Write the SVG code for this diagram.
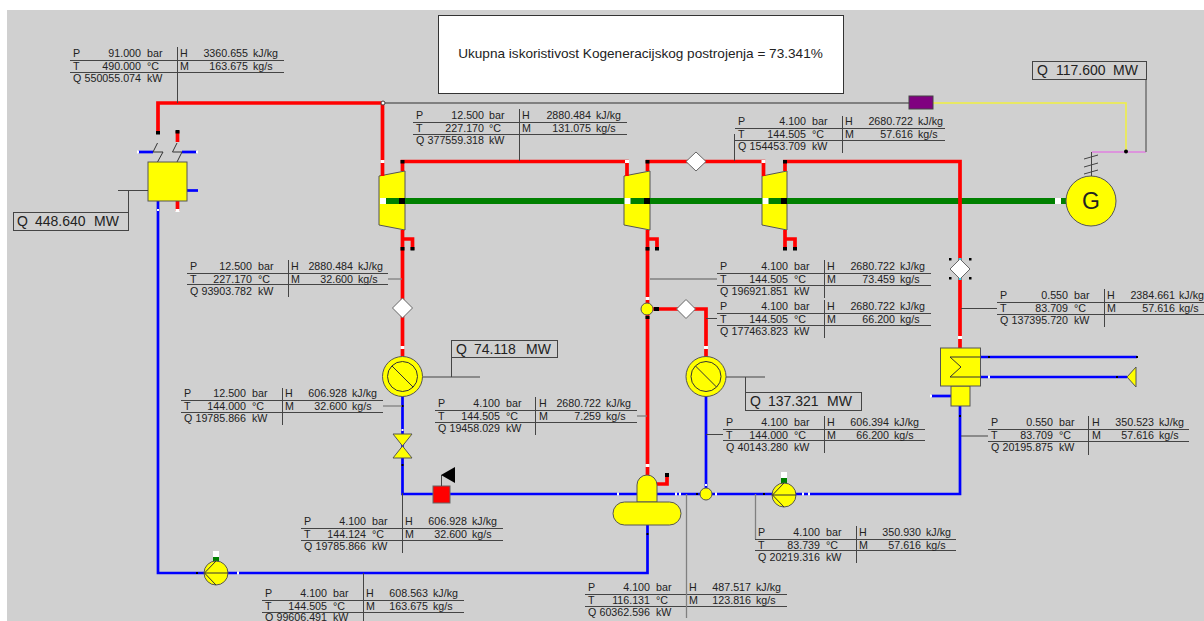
<svg xmlns="http://www.w3.org/2000/svg" width="1204" height="621" viewBox="0 0 1204 621">
<style>
text{font-family:"Liberation Sans",Arial,sans-serif;fill:#222}
.t text{font-size:10.700px}
.e{text-anchor:end}
.q{font-size:14px}
.ln{stroke:#444;stroke-width:1;fill:none}
.gl{stroke:#808080;stroke-width:1.800;fill:none}
.gm{stroke:#808080;stroke-width:1.300;fill:none}
.r{stroke:#f00;stroke-width:3.700;fill:none}
.b{stroke:#00f;stroke-width:2.700;fill:none}
.s{stroke:#008000;stroke-width:6;fill:none}
.n{fill:#ff0;stroke:#555;stroke-width:1}
.d{fill:#fff;stroke:#666;stroke-width:1}
.w{fill:#fff}
.k{fill:#000}
.bx{fill:#d0d0d0;stroke:#444;stroke-width:1}
.sym{stroke:#333;stroke-width:1;fill:none}
</style>
<rect x="7" y="10" width="1197" height="611" fill="#d0d0d0"/>
<g id="title"><rect x="438.500" y="15.500" width="405" height="78" fill="#fff" stroke="#333"/><text x="640.500" y="58" text-anchor="middle" font-size="13.600">Ukupna iskoristivost Kogeneracijskog postrojenja = 73.341%</text></g>
<g id="turbine-1"><polygon class="n" points="379,176 405,171 405,230 379,225"/></g>
<g id="turbine-2"><polygon class="n" points="624,176 650,171 650,230 624,225"/></g>
<g id="turbine-3"><polygon class="n" points="762,176 787,171 787,230 762,225"/></g>
<g id="connectors">
<path class="s" d="M380 201H1066"/>
<path class="gl" d="M383 103H909"/>
<path d="M933 103H1126V152" fill="none" stroke="#f0f040" stroke-width="1.500"/>
<path d="M1092 152H1146" fill="none" stroke="#e080e0" stroke-width="1.500"/>
<path class="gl" d="M1146 152V79"/>
<path class="r" d="M158 133V103H382.500V176"/>
<path class="r" d="M177.500 131V142"/>
<path class="r" d="M177.500 201V211"/>
<path class="r" d="M402.500 171V161.500H627V176"/>
<path class="r" d="M647.500 171V161.500H763.500V176"/>
<path class="r" d="M785 171V161.500H960V348"/>
<path class="r" d="M402.500 230V356"/>
<path class="r" d="M402.500 239H412.500V250"/>
<path class="r" d="M647.500 230V475"/>
<path class="r" d="M647.500 239H657V250"/>
<path class="r" d="M785 230V250"/>
<path class="r" d="M785 239H795V250"/>
<path class="r" d="M653 309H706V357"/>
<path class="r" d="M657 484H667V473"/>
<path class="b" d="M158 201V573H647.500V525"/>
<path class="b" d="M138 152H153"/>
<path class="b" d="M182 152H197"/>
<path class="b" d="M187 190.500H198"/>
<path class="b" d="M402.500 396V494H637"/>
<path class="b" d="M657 494H960V406"/>
<path class="b" d="M706 396V488"/>
<path class="b" d="M980 357H1137"/>
<path class="b" d="M980 377H1127"/>
<path class="b" d="M931 396H951"/>
<g class="sym"><path d="M157.500 143L153 152H163L157.500 162"/><path d="M177 143L172.500 152H182L177 162"/></g>
<g class="k">
<rect x="156" y="131" width="4" height="3.500"/><rect x="175.500" y="130" width="4" height="3.500"/>
<rect x="400.500" y="160" width="4" height="3.500"/><rect x="645.500" y="160" width="4" height="3.500"/><rect x="783" y="160" width="4" height="3.500"/>
<rect x="400.500" y="247" width="4" height="3.500"/><rect x="410.500" y="247" width="4" height="3.500"/>
<rect x="645.500" y="247" width="4" height="3.500"/><rect x="655" y="247" width="4" height="3.500"/>
<rect x="783" y="247" width="4" height="3.500"/><rect x="793" y="247" width="4" height="3.500"/>
<rect x="399" y="198" width="6" height="6"/><rect x="644" y="198" width="6" height="6"/><rect x="781" y="198" width="6" height="6"/>
<rect x="654" y="307" width="5" height="4"/><rect x="645.500" y="316" width="4" height="3"/>
<rect x="665" y="473" width="4" height="4"/>
<rect x="401.500" y="405" width="2" height="2"/><rect x="401.500" y="464" width="2" height="2"/><rect x="646.500" y="533" width="2" height="2"/>
<rect x="196" y="572" width="2" height="2"/><rect x="696" y="493" width="2" height="2"/><rect x="763" y="493" width="2" height="2"/><rect x="959" y="415" width="2" height="2"/>
<rect x="988" y="356" width="2" height="2"/><rect x="1136" y="356" width="2" height="2"/><rect x="1116" y="376" width="2" height="2"/>
</g>
<g class="w">
<rect x="380" y="198" width="6" height="6"/><rect x="624.500" y="198" width="6" height="6"/><rect x="762.500" y="198" width="6" height="6"/><rect x="1055" y="198" width="6" height="6"/>
<rect x="380.500" y="160" width="4" height="3"/><rect x="625" y="160" width="4" height="3"/><rect x="761.500" y="160" width="4" height="3"/>
<rect x="400.500" y="346" width="4" height="3"/><rect x="704" y="346" width="4" height="3"/><rect x="958" y="336" width="4" height="3"/><rect x="645.500" y="464" width="4" height="3"/><rect x="645.500" y="297" width="4" height="3"/>
<rect x="175.500" y="209" width="4" height="3"/>
<rect x="137" y="150.500" width="2" height="3"/><rect x="196" y="150.500" width="2" height="3"/>
<rect x="157" y="209" width="2" height="2"/><rect x="401.500" y="429" width="2" height="2"/><rect x="705" y="484" width="2" height="2"/>
<rect x="237" y="571.500" width="2" height="3"/><rect x="617" y="492.500" width="2" height="3"/><rect x="675" y="492.500" width="2" height="3"/><rect x="679" y="492.500" width="2" height="3"/><rect x="715" y="492.500" width="2" height="3"/><rect x="802" y="492.500" width="2" height="3"/><rect x="808" y="492.500" width="2" height="3"/>
<rect x="988" y="375.500" width="2" height="3"/><rect x="930" y="394.500" width="2" height="3"/>
</g>
</g>
<g id="junction-top"><circle cx="383" cy="103" r="2" fill="#fff" stroke="#444"/></g>
<g id="flow-meter"><rect x="909" y="96" width="24" height="13" fill="#800080" stroke="#444"/></g>
<g id="boiler"><rect class="n" x="148" y="162" width="39" height="39"/><path class="ln" d="M118 190.500H148M128.500 190.500V212"/></g>
<g id="q-boiler"><rect class="bx" x="13.500" y="212.500" width="115" height="18"/><text class="q" x="17" y="226">Q</text><text class="q" x="35" y="226">448.640</text><text class="q" x="94" y="226">MW</text></g>
<g id="generator"><circle class="n" cx="1091" cy="201" r="25"/><text x="1091" y="209" text-anchor="middle" font-size="23">G</text><path class="ln" d="M1091.500 152V176M1084 159L1098 155M1084 167L1098 163M1084 174L1098 170"/></g>
<g id="q-generator"><rect class="bx" x="1032.500" y="61.500" width="114" height="18"/><text class="q" x="1037" y="75">Q</text><text class="q" x="1056" y="75">117.600</text><text class="q" x="1113" y="75">MW</text></g>
<g id="meter-generator"><circle cx="1126" cy="151.500" r="2" fill="#000"/></g>
<g id="valve-diamond-1"><polygon class="d" points="696,152 706,161.500 696,171 686,161.500"/></g>
<g id="valve-diamond-2"><polygon class="d" points="402.500,298 412.500,308 402.500,318 392.500,308"/></g>
<g id="valve-diamond-3"><polygon class="d" points="686,299.500 695.500,309 686,318.500 676.500,309"/></g>
<g id="valve-diamond-4"><polygon class="d" points="960,259 970,269 960,279 950,269"/><g class="k"><rect x="949" y="258" width="2.500" height="2.500"/><rect x="969" y="258" width="2.500" height="2.500"/><rect x="949" y="277" width="2.500" height="2.500"/><rect x="969" y="277" width="2.500" height="2.500"/></g><rect x="958.500" y="258" width="3" height="2" fill="#30d0e0"/><rect x="958.500" y="278" width="3" height="2" fill="#30d0e0"/></g>
<g id="heater-1"><circle class="n" cx="402.500" cy="376.500" r="20"/><circle class="sym" cx="402.500" cy="376.500" r="15"/><path class="sym" d="M392 366L413 387"/><path class="ln" d="M423 377H480M451.500 377V358"/></g>
<g id="q-heater-1"><rect class="bx" x="451.500" y="340.500" width="106" height="17"/><text class="q" x="456" y="354">Q</text><text class="q" x="474" y="354">74.118</text><text class="q" x="526" y="354">MW</text></g>
<g id="heater-2"><circle class="n" cx="706" cy="376.500" r="20"/><circle class="sym" cx="706" cy="376.500" r="15"/><path class="sym" d="M695.500 366L716.500 387"/><path class="ln" d="M726 377H765M745.500 377V393"/></g>
<g id="q-heater-2"><rect class="bx" x="745.500" y="392.500" width="116" height="18"/><text class="q" x="750" y="406">Q</text><text class="q" x="768" y="406">137.321</text><text class="q" x="827" y="406">MW</text></g>
<g id="junction-1"><circle class="n" cx="647" cy="309" r="6"/></g>
<g id="junction-2"><circle class="n" cx="706" cy="494" r="6"/></g>
<g id="throttle"><polygon class="n" points="393,434 412,434 402.500,446"/><polygon class="n" points="393,458 412,458 402.500,446"/></g>
<g id="control-valve"><rect x="433" y="486" width="17" height="17" fill="#f00" stroke="#666"/><path class="ln" d="M441.500 486V475"/><polygon class="k" points="441,475 455,467 455,483"/></g>
<g id="deaerator"><path class="n" d="M637 502V485A10 10 0 0 1 657 485V502Z"/><rect class="n" x="613" y="502" width="68" height="23" rx="11.500"/></g>
<g id="pump-1"><rect x="213" y="557" width="6" height="5" fill="#008000"/><rect class="w" x="213" y="551" width="6" height="6"/><circle class="n" cx="216" cy="573" r="12"/><path class="sym" d="M216 561L204.500 573L216 585M204.500 573H228"/></g>
<g id="pump-2"><rect x="781" y="478" width="6" height="5" fill="#008000"/><rect class="w" x="781" y="472" width="6" height="6"/><circle class="n" cx="784" cy="495" r="12"/><path class="sym" d="M784 483L772.500 495L784 507M772.500 495H796"/></g>
<g id="condenser"><rect class="n" x="951" y="386" width="19" height="20"/><rect class="n" x="940.500" y="348" width="40" height="38"/><path class="sym" d="M980 357H950L961 367L950 377H980"/></g>
<g id="sink"><polygon class="n" points="1127,377 1136,367 1136,387"/></g>

<g id="leaders">
<path class="ln" d="M734.500 161V134"/>
<path class="gm" d="M388 279H402"/>
<path class="gm" d="M383 406H402"/>
<path class="gm" d="M637 416H647"/>
<path class="gm" d="M650 279H717"/>
<path class="ln" d="M706 318.500H717"/>
<path class="ln" d="M706 434.500H723"/>
<path class="ln" d="M961 308.500H997"/>
<path class="ln" d="M961 436H988"/>
<path class="gm" d="M755.500 494V539"/>
</g>

<g id="table-steam-in" class="t" transform="translate(70,60)">
<path class="ln" d="M0 .5H214M0 12.500H214M107.500 -13V43"/>
<text x="3" y="-3">P</text><text class="e" x="71" y="-3">91.000</text><text x="77" y="-3">bar</text><text x="110" y="-3">H</text><text class="e" x="178" y="-3">3360.655</text><text x="183" y="-3">kJ/kg</text>
<text x="3" y="10">T</text><text class="e" x="71" y="10">490.000</text><text x="77" y="10">°C</text><text x="110" y="10">M</text><text class="e" x="178" y="10">163.675</text><text x="183" y="10">kg/s</text>
<text x="3" y="22">Q</text><text class="e" x="71" y="22">550055.074</text><text x="77" y="22">kW</text>
</g>
<g id="table-hp-out" class="t" transform="translate(413,122)">
<path class="ln" d="M0 .5H214M0 12.500H214M106.500 -13V39"/>
<text x="3" y="-3">P</text><text class="e" x="71" y="-3">12.500</text><text x="76" y="-3">bar</text><text x="109" y="-3">H</text><text class="e" x="178" y="-3">2880.484</text><text x="183" y="-3">kJ/kg</text>
<text x="3" y="10">T</text><text class="e" x="71" y="10">227.170</text><text x="76" y="10">°C</text><text x="109" y="10">M</text><text class="e" x="178" y="10">131.075</text><text x="183" y="10">kg/s</text>
<text x="3" y="22">Q</text><text class="e" x="71" y="22">377559.318</text><text x="76" y="22">kW</text>
</g>
<g id="table-ip-out" class="t" transform="translate(735,128)">
<path class="ln" d="M0 .5H210M0 12.500H210M107.500 -12V25"/>
<text x="3" y="-3">P</text><text class="e" x="71" y="-3">4.100</text><text x="77" y="-3">bar</text><text x="110" y="-3">H</text><text class="e" x="178" y="-3">2680.722</text><text x="183" y="-3">kJ/kg</text>
<text x="3" y="10">T</text><text class="e" x="71" y="10">144.505</text><text x="77" y="10">°C</text><text x="110" y="10">M</text><text class="e" x="178" y="10">57.616</text><text x="183" y="10">kg/s</text>
<text x="3" y="22">Q</text><text class="e" x="71" y="22">154453.709</text><text x="77" y="22">kW</text>
</g>
<g id="table-extraction-hp" class="t" transform="translate(187,273)">
<path class="ln" d="M0 .5H201M0 11.500H201M101.500 -13V24"/>
<text x="3" y="-3">P</text><text class="e" x="65" y="-3">12.500</text><text x="71" y="-3">bar</text><text x="104" y="-3">H</text><text class="e" x="166" y="-3">2880.484</text><text x="171" y="-3">kJ/kg</text>
<text x="3" y="10">T</text><text class="e" x="65" y="10">227.170</text><text x="71" y="10">°C</text><text x="104" y="10">M</text><text class="e" x="166" y="10">32.600</text><text x="171" y="10">kg/s</text>
<text x="3" y="22">Q</text><text class="e" x="65" y="22">93903.782</text><text x="71" y="22">kW</text>
</g>
<g id="table-condensate-1" class="t" transform="translate(181,400)">
<path class="ln" d="M0 .5H202M0 12.500H202M101.500 -12V25"/>
<text x="3" y="-3">P</text><text class="e" x="65" y="-3">12.500</text><text x="71" y="-3">bar</text><text x="104" y="-3">H</text><text class="e" x="166" y="-3">606.928</text><text x="171" y="-3">kJ/kg</text>
<text x="3" y="10">T</text><text class="e" x="65" y="10">144.000</text><text x="71" y="10">°C</text><text x="104" y="10">M</text><text class="e" x="166" y="10">32.600</text><text x="171" y="10">kg/s</text>
<text x="3" y="22">Q</text><text class="e" x="65" y="22">19785.866</text><text x="71" y="22">kW</text>
</g>
<g id="table-deaerator-steam" class="t" transform="translate(435,410)">
<path class="ln" d="M0 .5H202M0 12.500H202M100.500 -13V25"/>
<text x="3" y="-3">P</text><text class="e" x="65" y="-3">4.100</text><text x="71" y="-3">bar</text><text x="104" y="-3">H</text><text class="e" x="166" y="-3">2680.722</text><text x="171" y="-3">kJ/kg</text>
<text x="3" y="10">T</text><text class="e" x="65" y="10">144.505</text><text x="71" y="10">°C</text><text x="104" y="10">M</text><text class="e" x="166" y="10">7.259</text><text x="171" y="10">kg/s</text>
<text x="3" y="22">Q</text><text class="e" x="65" y="22">19458.029</text><text x="71" y="22">kW</text>
</g>
<g id="table-throttled" class="t" transform="translate(301,528)">
<path class="ln" d="M0 .5H202M0 12.500H202M101.500 -35V25"/>
<text x="3" y="-3">P</text><text class="e" x="65" y="-3">4.100</text><text x="71" y="-3">bar</text><text x="104" y="-3">H</text><text class="e" x="166" y="-3">606.928</text><text x="171" y="-3">kJ/kg</text>
<text x="3" y="10">T</text><text class="e" x="65" y="10">144.124</text><text x="71" y="10">°C</text><text x="104" y="10">M</text><text class="e" x="166" y="10">32.600</text><text x="171" y="10">kg/s</text>
<text x="3" y="22">Q</text><text class="e" x="65" y="22">19785.866</text><text x="71" y="22">kW</text>
</g>
<g id="table-feedwater" class="t" transform="translate(262,600)">
<path class="ln" d="M0 .5H202M0 12.500H202M101.500 -27V21"/>
<text x="3" y="-3">P</text><text class="e" x="65" y="-3">4.100</text><text x="71" y="-3">bar</text><text x="104" y="-3">H</text><text class="e" x="166" y="-3">608.563</text><text x="171" y="-3">kJ/kg</text>
<text x="3" y="10">T</text><text class="e" x="65" y="10">144.505</text><text x="71" y="10">°C</text><text x="104" y="10">M</text><text class="e" x="166" y="10">163.675</text><text x="171" y="10">kg/s</text>
<text x="3" y="20.500">Q</text><text class="e" x="65" y="20.500">99606.491</text><text x="71" y="20.500">kW</text>
</g>
<g id="table-mixed" class="t" transform="translate(585,594)">
<path class="ln" d="M0 .5H202M0 12.500H202"/><path class="gm" d="M101.500 -100V24"/>
<text x="3" y="-3">P</text><text class="e" x="65" y="-3">4.100</text><text x="71" y="-3">bar</text><text x="104" y="-3">H</text><text class="e" x="166" y="-3">487.517</text><text x="171" y="-3">kJ/kg</text>
<text x="3" y="10">T</text><text class="e" x="65" y="10">116.131</text><text x="71" y="10">°C</text><text x="104" y="10">M</text><text class="e" x="166" y="10">123.816</text><text x="171" y="10">kg/s</text>
<text x="3" y="22">Q</text><text class="e" x="65" y="22">60362.596</text><text x="71" y="22">kW</text>
</g>
<g id="table-pump-out" class="t" transform="translate(755,539)">
<path class="ln" d="M0 .5H201M0 11.500H201M101.500 -13V24"/>
<text x="3" y="-3">P</text><text class="e" x="65" y="-3">4.100</text><text x="71" y="-3">bar</text><text x="104" y="-3">H</text><text class="e" x="166" y="-3">350.930</text><text x="171" y="-3">kJ/kg</text>
<text x="3" y="10">T</text><text class="e" x="65" y="10">83.739</text><text x="71" y="10">°C</text><text x="104" y="10">M</text><text class="e" x="166" y="10">57.616</text><text x="171" y="10">kg/s</text>
<text x="3" y="22">Q</text><text class="e" x="65" y="22">20219.316</text><text x="71" y="22">kW</text>
</g>
<g id="table-condensate-2" class="t" transform="translate(723,429)">
<path class="ln" d="M0 .5H202M0 11.500H202M101.500 -13V24"/>
<text x="3" y="-3">P</text><text class="e" x="65" y="-3">4.100</text><text x="71" y="-3">bar</text><text x="104" y="-3">H</text><text class="e" x="166" y="-3">606.394</text><text x="171" y="-3">kJ/kg</text>
<text x="3" y="10">T</text><text class="e" x="65" y="10">144.000</text><text x="71" y="10">°C</text><text x="104" y="10">M</text><text class="e" x="166" y="10">66.200</text><text x="171" y="10">kg/s</text>
<text x="3" y="22">Q</text><text class="e" x="65" y="22">40143.280</text><text x="71" y="22">kW</text>
</g>
<g id="table-condenser-out" class="t" transform="translate(988,429)">
<path class="ln" d="M0 .5H201M0 12.500H201M100.500 -13V26"/>
<text x="3" y="-3">P</text><text class="e" x="65" y="-3">0.550</text><text x="71" y="-3">bar</text><text x="104" y="-3">H</text><text class="e" x="166" y="-3">350.523</text><text x="171" y="-3">kJ/kg</text>
<text x="3" y="10">T</text><text class="e" x="65" y="10">83.709</text><text x="71" y="10">°C</text><text x="104" y="10">M</text><text class="e" x="166" y="10">57.616</text><text x="171" y="10">kg/s</text>
<text x="3" y="22">Q</text><text class="e" x="65" y="22">20195.875</text><text x="71" y="22">kW</text>
</g>
<g id="table-exhaust" class="t" transform="translate(997,302)">
<path class="ln" d="M0 .5H207M0 12.500H207M107.500 -13V25"/>
<text x="3" y="-3">P</text><text class="e" x="71" y="-3">0.550</text><text x="77" y="-3">bar</text><text x="110" y="-3">H</text><text class="e" x="178" y="-3">2384.661</text><text x="182" y="-3">kJ/kg</text>
<text x="3" y="10">T</text><text class="e" x="71" y="10">83.709</text><text x="77" y="10">°C</text><text x="110" y="10">M</text><text class="e" x="178" y="10">57.616</text><text x="182" y="10">kg/s</text>
<text x="3" y="22">Q</text><text class="e" x="71" y="22">137395.720</text><text x="77" y="22">kW</text>
</g>
<g id="table-lp-extraction" class="t" transform="translate(717,273)">
<path class="ln" d="M0 .5H214M0 12.500H214M107.500 -13V25"/>
<text x="3" y="-3">P</text><text class="e" x="71" y="-3">4.100</text><text x="77" y="-3">bar</text><text x="110" y="-3">H</text><text class="e" x="178" y="-3">2680.722</text><text x="183" y="-3">kJ/kg</text>
<text x="3" y="10">T</text><text class="e" x="71" y="10">144.505</text><text x="77" y="10">°C</text><text x="110" y="10">M</text><text class="e" x="178" y="10">73.459</text><text x="183" y="10">kg/s</text>
<text x="3" y="22">Q</text><text class="e" x="71" y="22">196921.851</text><text x="77" y="22">kW</text>
</g>
<g id="table-heater-2-in" class="t" transform="translate(717,313)">
<path class="ln" d="M0 .5H214M0 12.500H214M107.500 -13V25"/>
<text x="3" y="-3">P</text><text class="e" x="71" y="-3">4.100</text><text x="77" y="-3">bar</text><text x="110" y="-3">H</text><text class="e" x="178" y="-3">2680.722</text><text x="183" y="-3">kJ/kg</text>
<text x="3" y="10">T</text><text class="e" x="71" y="10">144.505</text><text x="77" y="10">°C</text><text x="110" y="10">M</text><text class="e" x="178" y="10">66.200</text><text x="183" y="10">kg/s</text>
<text x="3" y="22">Q</text><text class="e" x="71" y="22">177463.823</text><text x="77" y="22">kW</text>
</g>
</svg>
